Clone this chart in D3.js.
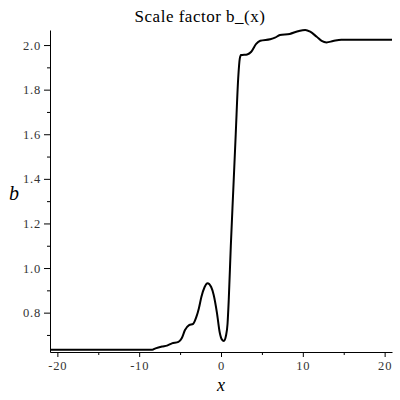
<!DOCTYPE html>
<html lang="en">
<head>
  <meta charset="UTF-8">
  <title>Scale factor b_(x)</title>
  <script src="https://d3js.org/d3.v7.min.js"></script>
  <style>
    body { margin: 0; background: #fff; }
    text { font-family: "Liberation Serif", "Times New Roman", "DejaVu Serif", serif; }
  </style>
</head>
<body>
  <svg width="400" height="400"></svg>
  <script>
    // curve
    const xVals = [-20.9, -8.4, -8.0, -7.2, -6.6, -6.0, -5.2, -4.8, -4.4, -3.9, -3.4, -3.0, -2.7, -2.4, -2.0,
      -1.65, -1.2, -0.9, -0.5, -0.15, 0.1, 0.35, 0.6, 0.8, 0.95, 1.2, 1.5, 1.8, 2.1, 2.3, 2.45,
      3.2, 3.7, 4.3, 4.8, 6.0, 6.6, 7.2, 8.4, 9.4, 10.3, 10.9, 11.7, 12.3, 12.9, 13.7, 14.7, 20.9];
    const bVals = [0.634, 0.634, 0.640, 0.648, 0.652, 0.662, 0.669, 0.685, 0.722, 0.744, 0.750, 0.782, 0.820, 0.870, 0.915,
      0.932, 0.915, 0.880, 0.800, 0.710, 0.680, 0.673, 0.695, 0.750, 0.860, 1.100, 1.350, 1.600, 1.850, 1.940, 1.955,
      1.958, 1.970, 2.005, 2.019, 2.026, 2.033, 2.045, 2.050, 2.062, 2.068, 2.060, 2.037, 2.019, 2.012, 2.018, 2.024, 2.024];

    const xTicks = [-20, -10, 0, 10, 20];
    const xMinor = [-15, -5, 5, 15];
    const yTicks = [0.8, 1.0, 1.2, 1.4, 1.6, 1.8, 2.0];
    const yMinor = [0.7, 0.9, 1.1, 1.3, 1.5, 1.7, 1.9];

    const data = xVals.map((x, i) => ({x, b: bVals[i]}));

    const svg = d3.select("svg");
    const plot = {left: 50, right: 392, top: 30, bottom: 352};

    const x = d3.scaleLinear().domain([-20.9, 20.9]).range([plot.left, plot.right]);
    const y = d3.scaleLinear().domain([0.6235, 2.0675]).range([plot.bottom, plot.top]);

    // minor ticks first, then the labelled axes on top
    svg.append("g")
      .attr("transform", `translate(0,${plot.bottom})`)
      .call(d3.axisBottom(x).tickValues(xMinor).tickSize(3).tickFormat(""))
      .call(g => g.select(".domain").remove());
    svg.append("g")
      .attr("transform", `translate(${plot.left},0)`)
      .call(d3.axisLeft(y).tickValues(yMinor).tickSize(3).tickFormat(""))
      .call(g => g.select(".domain").remove());

    svg.append("g")
      .attr("transform", `translate(0,${plot.bottom})`)
      .call(d3.axisBottom(x).tickValues(xTicks).tickSize(5).tickSizeOuter(0).tickPadding(4)
        .tickFormat(d => d < 0 ? "-" + Math.abs(d) : d));
    svg.append("g")
      .attr("transform", `translate(${plot.left},0)`)
      .call(d3.axisLeft(y).tickValues(yTicks).tickSize(6).tickSizeOuter(0).tickPadding(3)
        .tickFormat(d3.format(".1f")));

    svg.selectAll(".tick text")
      .style("font-family", "'Liberation Serif', 'Times New Roman', serif")
      .style("font-size", "12.5px")
      .style("letter-spacing", "0.8px")
      .attr("fill", "#333");

    // the curve
    const line = d3.line()
      .x(d => x(d.x))
      .y(d => y(d.b))
      .curve(d3.curveMonotoneX);

    svg.append("path")
      .datum(data)
      .attr("fill", "none")
      .attr("stroke", "#000")
      .attr("stroke-width", 2)
      .attr("stroke-linejoin", "round")
      .attr("d", line);

    // title and axis labels
    svg.append("text")
      .attr("x", 200)
      .attr("y", 22)
      .attr("text-anchor", "middle")
      .style("font-size", "17px")
      .style("letter-spacing", "0.5px")
      .text("Scale factor b_(x)");

    svg.append("text")
      .attr("x", 14)
      .attr("y", 200)
      .attr("text-anchor", "middle")
      .style("font-size", "20px")
      .style("font-style", "italic")
      .text("b");

    svg.append("text")
      .attr("x", 221)
      .attr("y", 391)
      .attr("text-anchor", "middle")
      .style("font-size", "18px")
      .style("font-style", "italic")
      .text("x");
  </script>
</body>
</html>
